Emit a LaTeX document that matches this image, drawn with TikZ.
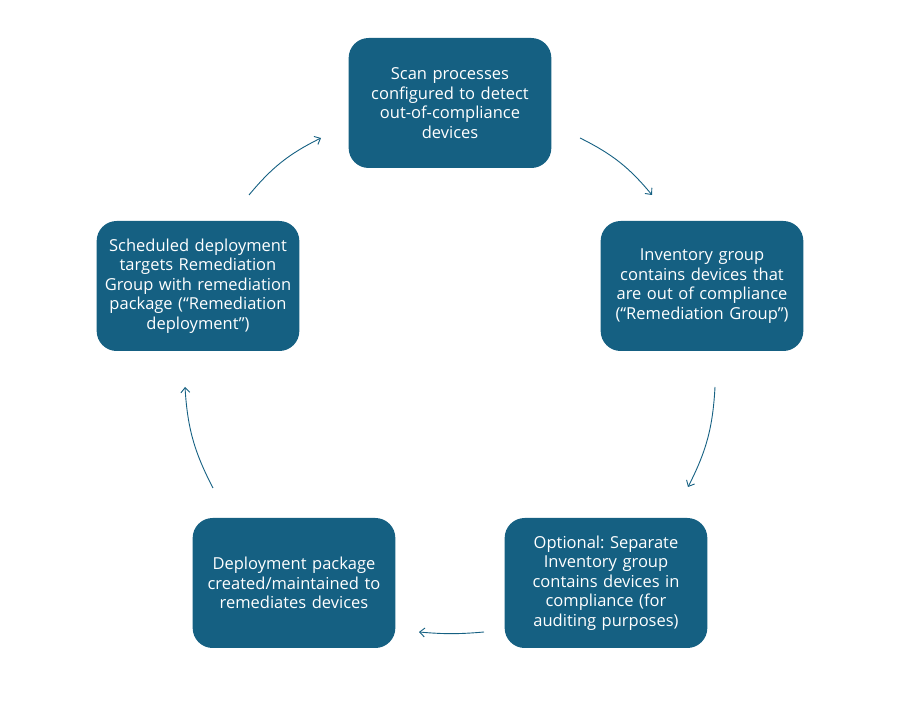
\documentclass[tikz,border=0pt]{standalone}
\usepackage{fontspec}
\setmainfont{Open Sans}
\usepackage{tikz}
\usetikzlibrary{arrows.meta}
\definecolor{cycleblue}{RGB}{21,96,130}
\frenchspacing

\tikzset{
  stagebox/.style={fill=cycleblue, rounded corners=20pt, minimum width=202pt, minimum height=130pt,
    text width=196pt, align=center, text=white, font=\fontsize{16.5}{19.5}\selectfont},
  cyclearrow/.style={draw=cycleblue, line width=0.9pt, -{Straight Barb[length=5pt,width=9pt]}}
}

\begin{document}
\begin{tikzpicture}[x=1pt,y=1pt]
\useasboundingbox (0,0) rectangle (922,707);

% Stages of the remediation cycle
\node[stagebox] (scan) at (450,604) {Scan processes\\ configured to detect\\ out-of-compliance\\ devices};
\node[stagebox] (group) at (702,421) {Inventory group\\ contains devices that\\ are out of compliance\\ (“Remediation Group”)};
\node[stagebox] (optional) at (606,124) {Optional: Separate\\ Inventory group\\ contains devices in\\ compliance (for\\ auditing purposes)};
\node[stagebox] (package) at (294,124) {Deployment package\\ created/maintained to\\ remediates devices};
\node[stagebox] (schedule) at (198,421) {Scheduled deployment\\ targets Remediation\\ Group with remediation\\ package (“Remediation\\ deployment”)};

% Arrow ends between the boxes
\coordinate (a1) at (580,569); \coordinate (b1) at (652,512);
\coordinate (a2) at (715,320); \coordinate (b2) at (688,220);
\coordinate (a3) at (484,75);  \coordinate (b3) at (419,75);
\coordinate (a4) at (213,219); \coordinate (b4) at (185,320);
\coordinate (a5) at (249,512); \coordinate (b5) at (321,569);

\draw[cyclearrow] (a1) to[bend left=12] (b1);
\draw[cyclearrow] (a2) to[bend left=12] (b2);
\draw[cyclearrow] (a3) to[bend left=5] (b3);
\draw[cyclearrow] (a4) to[bend left=12] (b4);
\draw[cyclearrow] (a5) to[bend left=12] (b5);
\end{tikzpicture}
\end{document}
